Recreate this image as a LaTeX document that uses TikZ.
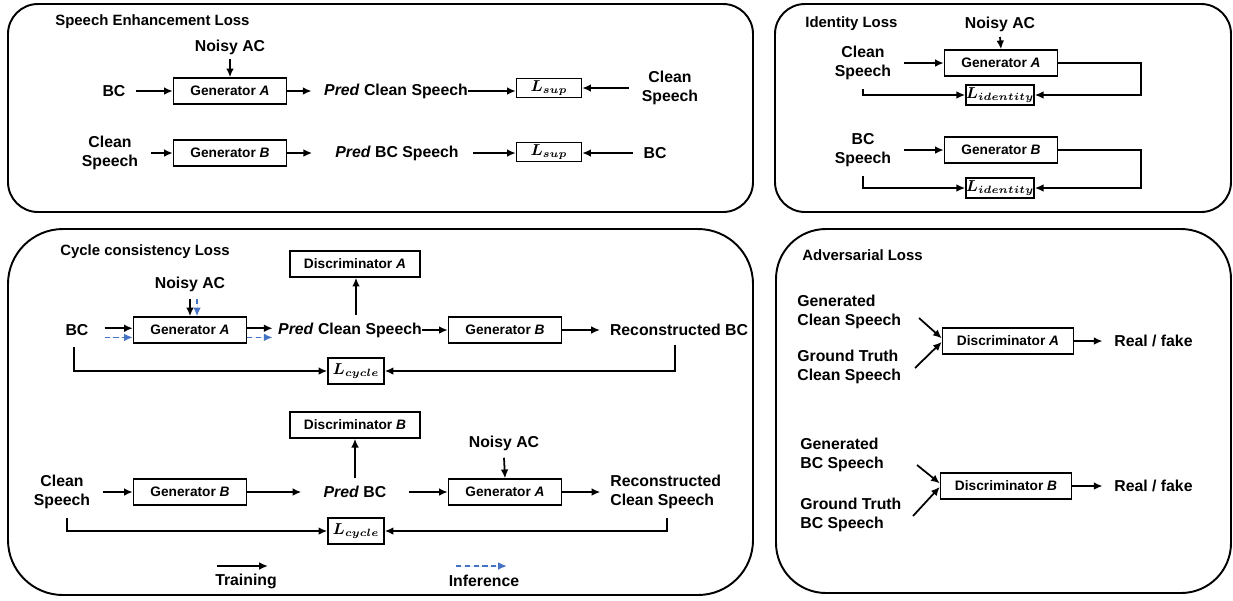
\documentclass[tikz,border=0pt]{standalone}
\usepackage{fontspec}
\newfontfamily\arialf{Liberation Sans}
\usetikzlibrary{arrows.meta}
\definecolor{infblue}{RGB}{68,114,196}
\begin{document}
\begin{tikzpicture}[x=0.02cm,y=-0.02cm,
 panel/.style={draw, line width=1.1pt},
 box/.style={draw, line width=0.8pt, inner sep=0pt, font=\arialf\bfseries\fontsize{7.8}{9}\selectfont, minimum width=2.26cm, minimum height=0.52cm},
 dbox/.style={box, minimum width=2.6cm},
 lbox/.style={draw, line width=0.8pt, inner sep=0pt, font=\boldmath\fontsize{8.6}{10}\selectfont},
 lbl/.style={font=\arialf\bfseries\fontsize{9}{11}\selectfont, align=center, inner sep=0pt},
 ttl/.style={font=\arialf\bfseries\fontsize{8.5}{10}\selectfont, inner sep=0pt, anchor=west},
 arr/.style={-{Latex[length=5pt,width=4.4pt]}, line width=1pt},
 inf/.style={arr, dash pattern=on 3pt off 2pt, draw=infblue, fill=infblue},
]
\useasboundingbox (0,0) rectangle (1233,600);

% panels
\draw[panel, rounded corners=0.6cm] (8,4) rectangle (753,212);
\draw[panel, rounded corners=0.6cm] (775,4) rectangle (1231,212);
\draw[panel, rounded corners=1.1cm] (8,229) rectangle (753,595);
\draw[panel, rounded corners=1cm] (776,229) rectangle (1231,593);

% ---------- Speech Enhancement Loss ----------
\node[ttl] (t1) at (55,22) {Speech Enhancement Loss};
\node[lbl] (n1) at (230,47) {Noisy AC};
\node[box] (gA1) at (230,91) {Generator \textit{A}};
\node[lbl] (bc1) at (114,91) {BC};
\node[lbl] (pc1) at (396,91) {\textit{Pred} Clean Speech};
\node[lbox, minimum width=1.3cm, minimum height=0.38cm] (ls1) at (549,88) {$L_{sup}$};
\node[lbl] (cs1) at (670,88) {Clean\\Speech};
\draw[arr] ([yshift=-2.5pt]n1.south) -- (gA1.north);
\draw[arr] ([xshift=6pt]bc1.east) -- (gA1.west);
\draw[arr] (gA1.east) -- ([xshift=-7pt]pc1.west);
\draw[arr] (pc1.east) -- (pc1.east -| ls1.west);
\draw[arr] ([xshift=-7pt]cs1.west) -- (cs1.west -| ls1.east);

\node[lbl] (cs2) at (110,153) {Clean\\Speech};
\node[box] (gB1) at (230,153) {Generator \textit{B}};
\node[lbl] (pb1) at (397,153) {\textit{Pred} BC Speech};
\node[lbox, minimum width=1.3cm, minimum height=0.38cm] (ls2) at (549,152) {$L_{sup}$};
\node[lbl] (bc2) at (655,153) {BC};
\draw[arr] ([xshift=7pt]cs2.east) -- (gB1.west);
\draw[arr] (gB1.east) -- ([xshift=-13pt]pb1.west);
\draw[arr] ([xshift=8pt]pb1.east) -- (pb1.east -| ls2.west);
\draw[arr] ([xshift=-6pt]bc2.west) -- (bc2.west -| ls2.east);

% ---------- Identity Loss ----------
\node[ttl] (t2) at (805,24) {Identity Loss};
\node[lbl] (n2) at (1000,24) {Noisy AC};
\node[lbl] (cs3) at (863,63) {Clean\\Speech};
\node[box] (gA2) at (1001,63) {Generator \textit{A}};
\node[lbox, minimum width=1.26cm, minimum height=0.4cm] (li1) at (1000,95) {$L_{identity}$};
\draw[arr] ([yshift=-3pt]n2.south) -- (gA2.north);
\draw[arr] ([xshift=7pt]cs3.east) -- (gA2.west);
\draw[arr] (gA2.east) -- ++(83,0) |- (li1.east);
\draw[arr] ([yshift=-5pt]cs3.south) |- (li1.west);

\node[lbl] (bs1) at (863,150) {BC\\Speech};
\node[box] (gB2) at (1001,150) {Generator \textit{B}};
\node[lbox, minimum width=1.26cm, minimum height=0.4cm] (li2) at (1000,188) {$L_{identity}$};
\draw[arr] ([xshift=7pt]bs1.east -| cs3.east) -- (gB2.west);
\draw[arr] (gB2.east) -- ++(83,0) |- (li2.east);
\draw[arr] ([yshift=-5pt]bs1.south) |- (li2.west);

% ---------- Cycle consistency Loss ----------
\node[ttl] (t3) at (60,252) {Cycle consistency Loss};
\node[dbox] (dA) at (355,264) {Discriminator \textit{A}};
\node[lbl] (n3) at (190,284) {Noisy AC};
\node[lbl] (bc3) at (77,330) {BC};
\node[box] (gA3) at (190,330) {Generator \textit{A}};
\node[lbl] (pc3) at (350,330) {\textit{Pred} Clean Speech};
\node[box] (gB3) at (505,330) {Generator \textit{B}};
\node[lbl] (rb) at (679,330) {Reconstructed BC};
\node[lbox, minimum width=1.12cm, minimum height=0.52cm] (lc1) at (356,371) {$L_{cycle}$};
\coordinate (p3up) at (356,315);
\coordinate (rbd) at (675,345);
\coordinate (bcd) at (74,347);
\draw[arr] ([yshift=-4pt]n3.south) -- (gA3.north);
\draw[inf] ([xshift=4pt,yshift=-4pt]n3.south) -- ([xshift=4pt]gA3.north);
\draw[arr] ([xshift=9pt,yshift=1pt]bc3.east) -- ([yshift=1pt]gA3.west);
\draw[inf] ([xshift=9pt,yshift=-4.2pt]bc3.east) -- ([yshift=-4.2pt]gA3.west);
\draw[arr] ([yshift=1pt]gA3.east) -- ([yshift=1pt,xshift=-3pt]pc3.west);
\draw[inf] ([yshift=-4.2pt]gA3.east) -- ([yshift=-4.2pt,xshift=-3pt]pc3.west);
\draw[arr] (p3up) -- (p3up |- dA.south);
\draw[arr] (pc3.east) -- (pc3.east -| gB3.west);
\draw[arr] (gB3.east) -- ([xshift=-5.5pt]rb.west);
\draw[arr] (rbd) |- (lc1.east);
\draw[arr] (bcd) |- (lc1.west);

\node[dbox] (dB) at (355,425) {Discriminator \textit{B}};
\node[lbl] (n4) at (504,443) {Noisy AC};
\node[lbl] (cs4) at (62,492) {Clean\\Speech};
\node[box] (gB4) at (190,492) {Generator \textit{B}};
\node[lbl] (pb2) at (355,492) {\textit{Pred} BC};
\node[box] (gA4) at (505,492) {Generator \textit{A}};
\node[lbl, align=left, anchor=west] (rc) at (610,492) {Reconstructed\\Clean Speech};
\node[lbox, minimum width=1.12cm, minimum height=0.52cm] (lc2) at (356,531) {$L_{cycle}$};
\coordinate (rcd) at (667,518);
\coordinate (csd) at (67,518);
\draw[arr] ([xshift=7pt]cs4.east) -- (gB4.west);
\draw[arr] (gB4.east) -- ([xshift=-12.5pt]pb2.west);
\draw[arr] ([yshift=4.5pt]pb2.north) -- (dB.south);
\draw[arr] ([xshift=12.5pt]pb2.east) -- (gA4.west);
\draw[arr] ([yshift=-4pt]n4.south) -- (gA4.north);
\draw[arr] (gA4.east) -- ([xshift=-5.5pt]rc.west);
\draw[arr] (rcd) |- (lc2.east);
\draw[arr] (csd) |- (lc2.west);

% legend
\coordinate (tr1) at (217,566);
\coordinate (tr2) at (268,566);
\coordinate (in1) at (456,566);
\coordinate (in2) at (507,566);
\draw[arr] (tr1) -- (tr2);
\draw[inf] (in1) -- (in2);
\node[lbl] (trl) at (246,581) {Training};
\node[lbl] (inl) at (484,581) {Inference};

% ---------- Adversarial Loss ----------
\node[ttl] (t4) at (802,255) {Adversarial Loss};
\node[lbl, align=left, anchor=west] (gc) at (797,312) {Generated\\Clean Speech};
\node[lbl, align=left, anchor=west] (gt) at (797,367) {Ground Truth\\Clean Speech};
\node[dbox, minimum width=2.62cm] (dA2) at (1008,341) {Discriminator \textit{A}};
\node[lbl, anchor=west] (rf1) at (1114,341) {Real / fake};
\coordinate (g1) at (919,318);
\coordinate (g2) at (915,368);
\draw[arr] (g1) -- ([yshift=1.5pt]dA2.west);
\draw[arr] (g2) -- ([yshift=-0.5pt]dA2.west);
\draw[arr] (dA2.east) -- ([xshift=-6.5pt]rf1.west);

\node[lbl, align=left, anchor=west] (gb) at (800,455) {Generated\\BC Speech};
\node[lbl, align=left, anchor=west] (gtb) at (800,515) {Ground Truth\\BC Speech};
\node[dbox, minimum width=2.62cm] (dB2) at (1006,486) {Discriminator \textit{B}};
\node[lbl, anchor=west] (rf2) at (1114,486) {Real / fake};
\coordinate (g3) at (917,465);
\coordinate (g4) at (913,516);
\draw[arr] (g3) -- ([yshift=1.5pt]dB2.west);
\draw[arr] (g4) -- ([yshift=-0.5pt]dB2.west);
\draw[arr] (dB2.east) -- ([xshift=-6.5pt]rf2.west);
\end{tikzpicture}
\end{document}
